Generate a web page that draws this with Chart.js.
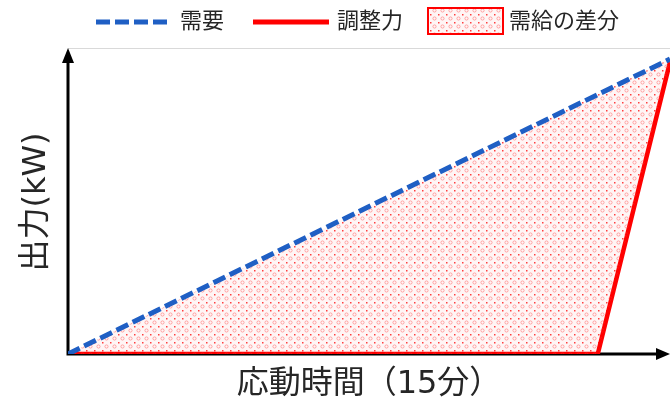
<!DOCTYPE html>
<html>
<head>
<meta charset="utf-8">
<script src="https://cdn.jsdelivr.net/npm/chart.js@4/dist/chart.umd.min.js"></script>
<style>
  html, body { margin: 0; padding: 0; background: #fff; }
  #wrap { width: 670px; height: 404px; }
</style>
</head>
<body>
<div id="wrap"><canvas id="chart"></canvas></div>
<script>
// series names (legend)
const seriesNames = ['需要', '調整力', '需給の差分'];
// demand line: time (min) vs output
const demandX = [0, 15];
const demandY = [0, 97];
// adjusting power: flat then ramps up at the end
const supplyX = [0, 13.2, 15];
const supplyY = [0, 0, 96];

const xTitle = '応動時間（15分）';
const yTitle = '出力(kW)';

const BLUE = '#1f5fc4';
const RED = '#ff0000';
const FONT = '"DejaVu Sans", "Noto Sans CJK JP", sans-serif';

// pink dotted fill like the original
function makePattern() {
  const c = document.createElement('canvas');
  c.width = 8; c.height = 8;
  const g = c.getContext('2d');
  g.fillStyle = 'rgba(255,0,0,0.04)';
  g.fillRect(0, 0, 8, 8);
  g.strokeStyle = 'rgba(255,60,60,0.4)';
  g.lineWidth = 1;
  g.beginPath();
  g.arc(2.5, 2.5, 1.6, 0, Math.PI * 2);
  g.stroke();
  g.fillStyle = 'rgba(255,0,0,0.75)';
  g.fillRect(6, 6, 1.5, 1.5);
  return g.createPattern(c, 'repeat');
}
const pattern = makePattern();

const toPts = (xs, ys) => xs.map((x, i) => ({ x: x, y: ys[i] }));

// axes with arrow heads + thin top border line
const axesPlugin = {
  id: 'axes',
  beforeDatasetsDraw(chart) {
    const { ctx, chartArea: a } = chart;
    ctx.save();
    ctx.strokeStyle = '#d9d9d9';
    ctx.lineWidth = 1;
    ctx.beginPath();
    ctx.moveTo(a.left, a.top - 1.5);
    ctx.lineTo(a.right, a.top - 1.5);
    ctx.stroke();

    ctx.strokeStyle = '#000';
    ctx.fillStyle = '#000';
    ctx.lineWidth = 3;
    ctx.beginPath();
    ctx.moveTo(a.left, a.bottom + 1);
    ctx.lineTo(a.left, a.top + 10);
    ctx.moveTo(a.left - 1.5, a.bottom);
    ctx.lineTo(a.right - 10, a.bottom);
    ctx.stroke();
    // arrow heads
    ctx.beginPath();
    ctx.moveTo(a.left, a.top - 2);
    ctx.lineTo(a.left - 6, a.top + 13);
    ctx.lineTo(a.left + 6, a.top + 13);
    ctx.closePath();
    ctx.fill();
    ctx.beginPath();
    ctx.moveTo(a.right, a.bottom);
    ctx.lineTo(a.right - 14, a.bottom - 6);
    ctx.lineTo(a.right - 14, a.bottom + 6);
    ctx.closePath();
    ctx.fill();
    ctx.restore();
  }
};

// legend on top: dashed line, solid line, patterned box
const legendPlugin = {
  id: 'topLegend',
  afterDraw(chart) {
    const ctx = chart.ctx;
    const y = 22;
    ctx.save();
    ctx.font = '22px ' + FONT;
    ctx.textBaseline = 'middle';
    ctx.fillStyle = '#262626';

    ctx.strokeStyle = BLUE;
    ctx.lineWidth = 5;
    ctx.setLineDash([14, 5]);
    ctx.beginPath();
    ctx.moveTo(96, y); ctx.lineTo(172, y);
    ctx.stroke();
    ctx.setLineDash([]);
    ctx.fillText(seriesNames[0], 180, y);

    ctx.strokeStyle = RED;
    ctx.beginPath();
    ctx.moveTo(253, y); ctx.lineTo(329, y);
    ctx.stroke();
    ctx.fillText(seriesNames[1], 337, y);

    ctx.fillStyle = '#fff';
    ctx.fillRect(428, 8, 75, 26);
    ctx.fillStyle = pattern;
    ctx.fillRect(428, 8, 75, 26);
    ctx.strokeStyle = RED;
    ctx.lineWidth = 2;
    ctx.strokeRect(428, 8, 75, 26);
    ctx.fillStyle = '#262626';
    ctx.fillText(seriesNames[2], 509, y);
    ctx.restore();
  }
};

new Chart(document.getElementById('chart'), {
  type: 'line',
  data: {
    datasets: [
      {
        label: seriesNames[0],
        data: toPts(demandX, demandY),
        borderColor: BLUE,
        borderWidth: 5,
        borderDash: [13, 5],
        pointRadius: 0,
        fill: { target: '+1' },
        backgroundColor: pattern
      },
      {
        label: seriesNames[1],
        data: toPts(supplyX, supplyY),
        borderColor: RED,
        borderWidth: 4.5,
        pointRadius: 0,
        fill: false
      }
    ]
  },
  options: {
    responsive: true,
    maintainAspectRatio: false,
    animation: false,
    layout: { padding: { top: 50, right: 0, left: 0, bottom: 0 } },
    plugins: {
      legend: { display: false },
      tooltip: { enabled: false }
    },
    scales: {
      x: {
        type: 'linear',
        min: 0, max: 15,
        grid: { display: false },
        border: { display: false },
        ticks: { display: false },
        title: { display: true, text: xTitle, color: '#262626',
                 font: { family: FONT, size: 32 }, padding: { top: 0, bottom: 0 } },
        afterFit(s) { s.height = 50; }
      },
      y: {
        min: 0, max: 100,
        grid: { display: false },
        border: { display: false },
        ticks: { display: false },
        title: { display: true, text: yTitle, color: '#262626',
                 font: { family: FONT, size: 32 }, padding: { top: 17, bottom: 0 } },
        afterFit(s) { s.width = 68; }
      }
    }
  },
  plugins: [axesPlugin, legendPlugin]
});
</script>
</body>
</html>
